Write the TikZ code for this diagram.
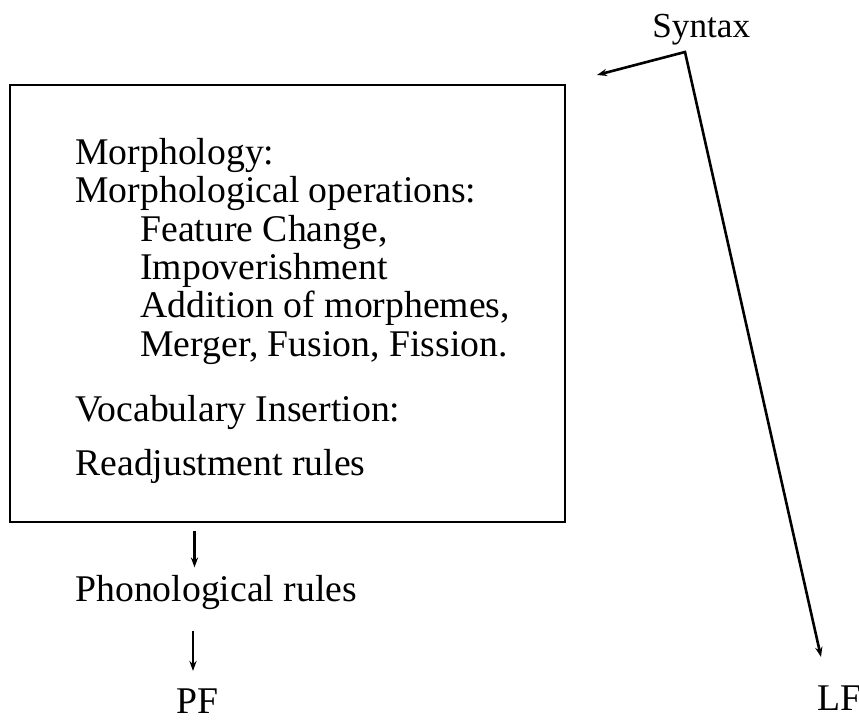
\documentclass[tikz,border=0pt]{standalone}
\usepackage{fontspec}
\setmainfont{Liberation Serif}
\usetikzlibrary{arrows.meta}
\begin{document}
\begin{tikzpicture}[x=0.5pt,y=-0.5pt,
    txt/.style={inner sep=0pt,anchor=base west,font=\fontsize{18.85}{19.25}\selectfont},
    frame/.style={draw,line width=1pt,inner sep=0pt},
    flow/.style={line width=1.1pt,-{Stealth[length=5pt,width=3.6pt]}},
    branch/.style={line width=1.3pt,{Stealth[length=5pt,width=3.6pt]}-{Stealth[length=5pt,width=3.6pt]}}]
  \useasboundingbox (0,0) rectangle (859,721);

  % the morphology component
  \node[frame,minimum width=277.5pt,minimum height=218.5pt] (box) at (287.5,303.5) {};
  \node[txt] (morph)  at (75,165) {Morphology:};
  \node[txt] (ops)    at (75,203) {Morphological operations:};
  \node[txt] (feat)   at (140,242) {Feature Change,};
  \node[txt] (impov)  at (140,280) {Impoverishment};
  \node[txt] (addm)   at (140,318) {Addition of morphemes,};
  \node[txt] (merge)  at (140,357) {Merger, Fusion, Fission.};
  \node[txt] (vocab)  at (75,422) {Vocabulary Insertion:};
  \node[txt] (readj)  at (75,476) {Readjustment rules};

  % phonological branch
  \node[txt] (phon) at (75,602) {Phonological rules};
  \node[txt] (pf)   at (176,714) {PF};

  % syntax and the split towards LF
  \node[txt,font=\fontsize{17.6}{18}\selectfont] (syn) at (652,38) {Syntax};
  \node[txt] (lf) at (817,711) {LF};
  \coordinate (split) at (685,52);
  \coordinate (tomorph) at (597,75);
  \coordinate (tolf) at (821,657);

  \draw[flow,shorten <=4pt,shorten >=4pt] (box.south -| 194.5,0) -- (phon.north -| 194.5,0);
  \draw[flow,shorten <=10pt,shorten >=9pt] (phon.south -| 193,0) -- (pf.north -| 193,0);
  \draw[branch] (tomorph) -- (split) -- (tolf);
\end{tikzpicture}
\end{document}
